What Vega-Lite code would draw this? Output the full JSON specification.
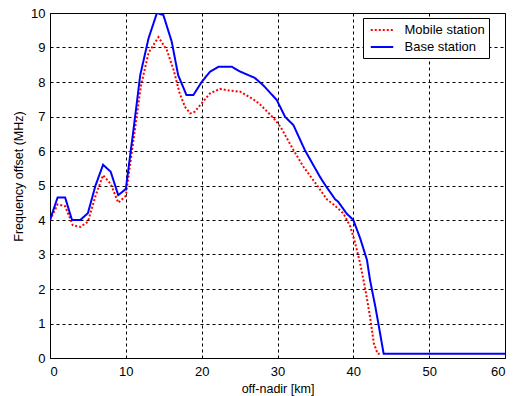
{
  "$schema": "https://vega.github.io/schema/vega-lite/v6.json",
  "autosize": "none",
  "width": 455,
  "height": 345,
  "padding": {"left": 50, "top": 13, "right": 11, "bottom": 38},
  "background": "white",
  "config": {
    "view": {"stroke": "black", "strokeWidth": 1},
    "font": "Liberation Sans",
    "axis": {
      "grid": true,
      "gridColor": "black",
      "gridDash": [3, 3],
      "gridOpacity": 1,
      "gridWidth": 1,
      "domain": false,
      "ticks": false,
      "labelFont": "Liberation Sans",
      "labelFontSize": 13,
      "labelColor": "black",
      "titleFont": "Liberation Sans",
      "titleFontSize": 12.5,
      "titleFontWeight": "normal",
      "titleColor": "black"
    }
  },
  "data": {
    "values": [
      {"x": 0, "y": 4.0, "s": "Mobile station"},
      {"x": 1, "y": 4.45, "s": "Mobile station"},
      {"x": 2, "y": 4.4, "s": "Mobile station"},
      {"x": 3, "y": 3.85, "s": "Mobile station"},
      {"x": 4, "y": 3.8, "s": "Mobile station"},
      {"x": 5, "y": 3.95, "s": "Mobile station"},
      {"x": 6, "y": 4.7, "s": "Mobile station"},
      {"x": 7, "y": 5.3, "s": "Mobile station"},
      {"x": 8, "y": 5.05, "s": "Mobile station"},
      {"x": 9, "y": 4.5, "s": "Mobile station"},
      {"x": 10, "y": 4.7, "s": "Mobile station"},
      {"x": 11, "y": 6.3, "s": "Mobile station"},
      {"x": 12, "y": 7.9, "s": "Mobile station"},
      {"x": 13, "y": 8.85, "s": "Mobile station"},
      {"x": 14.3, "y": 9.3, "s": "Mobile station"},
      {"x": 15.4, "y": 8.93, "s": "Mobile station"},
      {"x": 16.3, "y": 8.35, "s": "Mobile station"},
      {"x": 17.1, "y": 7.67, "s": "Mobile station"},
      {"x": 17.8, "y": 7.28, "s": "Mobile station"},
      {"x": 18.5, "y": 7.09, "s": "Mobile station"},
      {"x": 19.1, "y": 7.14, "s": "Mobile station"},
      {"x": 19.8, "y": 7.33, "s": "Mobile station"},
      {"x": 21.1, "y": 7.67, "s": "Mobile station"},
      {"x": 22.4, "y": 7.8, "s": "Mobile station"},
      {"x": 23.7, "y": 7.75, "s": "Mobile station"},
      {"x": 25.1, "y": 7.72, "s": "Mobile station"},
      {"x": 26.8, "y": 7.5, "s": "Mobile station"},
      {"x": 27.7, "y": 7.35, "s": "Mobile station"},
      {"x": 29.5, "y": 6.95, "s": "Mobile station"},
      {"x": 30.4, "y": 6.7, "s": "Mobile station"},
      {"x": 32.1, "y": 6.03, "s": "Mobile station"},
      {"x": 33.4, "y": 5.55, "s": "Mobile station"},
      {"x": 35.2, "y": 5.01, "s": "Mobile station"},
      {"x": 36.5, "y": 4.6, "s": "Mobile station"},
      {"x": 37.4, "y": 4.45, "s": "Mobile station"},
      {"x": 38.7, "y": 4.19, "s": "Mobile station"},
      {"x": 39.6, "y": 3.81, "s": "Mobile station"},
      {"x": 40.2, "y": 3.37, "s": "Mobile station"},
      {"x": 40.9, "y": 2.74, "s": "Mobile station"},
      {"x": 41.6, "y": 1.97, "s": "Mobile station"},
      {"x": 42.2, "y": 1.2, "s": "Mobile station"},
      {"x": 42.7, "y": 0.43, "s": "Mobile station"},
      {"x": 43.2, "y": 0.12, "s": "Mobile station"},
      {"x": 43.6, "y": 0.12, "s": "Mobile station"},
      {"x": 0, "y": 4.0, "s": "Base station"},
      {"x": 1, "y": 4.65, "s": "Base station"},
      {"x": 2, "y": 4.65, "s": "Base station"},
      {"x": 2.9, "y": 4.0, "s": "Base station"},
      {"x": 4, "y": 4.0, "s": "Base station"},
      {"x": 5, "y": 4.2, "s": "Base station"},
      {"x": 6, "y": 5.0, "s": "Base station"},
      {"x": 7, "y": 5.6, "s": "Base station"},
      {"x": 8, "y": 5.4, "s": "Base station"},
      {"x": 9, "y": 4.72, "s": "Base station"},
      {"x": 10, "y": 4.9, "s": "Base station"},
      {"x": 11, "y": 6.6, "s": "Base station"},
      {"x": 11.9, "y": 8.2, "s": "Base station"},
      {"x": 13, "y": 9.27, "s": "Base station"},
      {"x": 14.1, "y": 10.0, "s": "Base station"},
      {"x": 14.95, "y": 9.94, "s": "Base station"},
      {"x": 16.05, "y": 9.17, "s": "Base station"},
      {"x": 16.9, "y": 8.2, "s": "Base station"},
      {"x": 18.0, "y": 7.62, "s": "Base station"},
      {"x": 18.9, "y": 7.62, "s": "Base station"},
      {"x": 20.0, "y": 8.0, "s": "Base station"},
      {"x": 21.1, "y": 8.3, "s": "Base station"},
      {"x": 22.2, "y": 8.44, "s": "Base station"},
      {"x": 24.0, "y": 8.44, "s": "Base station"},
      {"x": 25.1, "y": 8.3, "s": "Base station"},
      {"x": 27.0, "y": 8.12, "s": "Base station"},
      {"x": 28.1, "y": 7.91, "s": "Base station"},
      {"x": 29.9, "y": 7.48, "s": "Base station"},
      {"x": 31.0, "y": 6.99, "s": "Base station"},
      {"x": 32.1, "y": 6.75, "s": "Base station"},
      {"x": 33.6, "y": 6.03, "s": "Base station"},
      {"x": 35.6, "y": 5.25, "s": "Base station"},
      {"x": 36.3, "y": 5.01, "s": "Base station"},
      {"x": 37.6, "y": 4.6, "s": "Base station"},
      {"x": 38.0, "y": 4.53, "s": "Base station"},
      {"x": 39.1, "y": 4.19, "s": "Base station"},
      {"x": 40.0, "y": 4.0, "s": "Base station"},
      {"x": 40.9, "y": 3.47, "s": "Base station"},
      {"x": 41.8, "y": 2.84, "s": "Base station"},
      {"x": 42.2, "y": 2.26, "s": "Base station"},
      {"x": 42.9, "y": 1.49, "s": "Base station"},
      {"x": 43.3, "y": 1.0, "s": "Base station"},
      {"x": 44.0, "y": 0.12, "s": "Base station"},
      {"x": 50.0, "y": 0.12, "s": "Base station"},
      {"x": 60.0, "y": 0.12, "s": "Base station"}
    ]
  },
  "mark": {"type": "line", "strokeWidth": 2, "clip": true},
  "encoding": {
    "x": {
      "field": "x",
      "type": "quantitative",
      "scale": {"domain": [0, 60], "nice": false, "zero": false},
      "axis": {"values": [0, 10, 20, 30, 40, 50, 60], "title": "off-nadir [km]", "labelPadding": 7, "titlePadding": 4}
    },
    "y": {
      "field": "y",
      "type": "quantitative",
      "scale": {"domain": [0, 10], "nice": false},
      "axis": {"values": [0, 1, 2, 3, 4, 5, 6, 7, 8, 9, 10], "title": "Frequency offset (MHz)", "labelPadding": 5, "titlePadding": 5, "titleY": 163}
    },
    "color": {
      "field": "s",
      "type": "nominal",
      "scale": {"domain": ["Mobile station", "Base station"], "range": ["#ff0000", "#0000ff"]},
      "legend": {
        "title": null,
        "orient": "none",
        "legendX": 313,
        "legendY": 5,
        "symbolType": "M-1.5,0H1.5",
        "symbolSize": 225,
        "symbolStrokeWidth": 2,
        "labelFont": "Liberation Sans",
        "labelFontSize": 13,
        "labelColor": "black",
        "labelExpr": "datum.label + '\u00a0\u00a0\u00a0\u00a0\u00a0'",
        "strokeColor": "black",
        "fillColor": "white",
        "padding": 3.5,
        "rowPadding": 1,
        "labelOffset": 14,
        "symbolOffset": 7
      }
    },
    "strokeDash": {
      "field": "s",
      "type": "nominal",
      "scale": {"domain": ["Mobile station", "Base station"], "range": [[2, 2], [1, 0]]},
      "legend": null
    }
  }
}
